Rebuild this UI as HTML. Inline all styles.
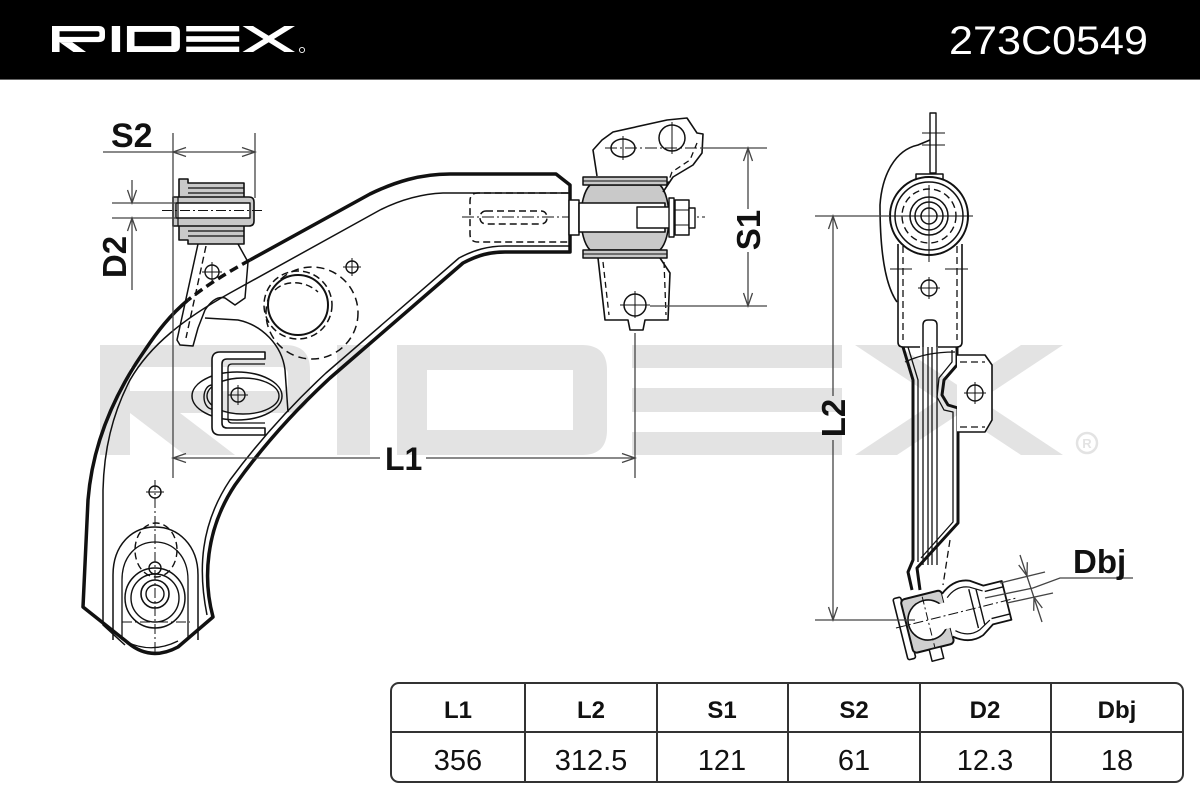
<!DOCTYPE html>
<html>
<head>
<meta charset="utf-8">
<style>
html,body{margin:0;padding:0;background:#fff;}
svg{display:block;}
.lbl{font-family:"Liberation Sans",Arial,sans-serif;font-weight:bold;fill:#111;}
.th{font-family:"Liberation Sans",Arial,sans-serif;font-weight:bold;fill:#111;font-size:24px;}
.td{font-family:"Liberation Sans",Arial,sans-serif;fill:#111;font-size:29px;}
</style>
</head>
<body>
<svg width="1200" height="800" viewBox="0 0 1200 800" xmlns="http://www.w3.org/2000/svg">
<defs>
<g id="logo">
  <path fill-rule="evenodd" d="M0,0 H185 Q210,0 210,25 V45 Q210,68 185,68 H30 V110 H0 Z M30,22 H180 Q188,22 188,30 V38 Q188,46 180,46 H30 Z"/>
  <polygon points="30,68 80,68 135,110 85,110"/>
  <rect x="237" y="0" width="33" height="110"/>
  <path fill-rule="evenodd" d="M297,0 H482 Q507,0 507,25 V85 Q507,110 482,110 H297 Z M327,25 H473 V85 H327 Z"/>
  <rect x="532" y="0" width="210" height="23"/>
  <rect x="532" y="43" width="210" height="24"/>
  <rect x="532" y="87" width="210" height="23"/>
  <polygon points="755,0 797,0 963,110 921,110"/>
  <polygon points="921,0 963,0 797,110 755,110"/>
</g>
</defs>

<rect width="1200" height="800" fill="#fff"/>

<!-- watermark -->
<use href="#logo" transform="translate(100,345)" fill="#e3e3e3"/>
<circle cx="1087" cy="443" r="10" fill="none" stroke="#e3e3e3" stroke-width="2.5"/>
<text x="1087" y="448" text-anchor="middle" font-family="Liberation Sans, sans-serif" font-size="13" font-weight="bold" fill="#e3e3e3">R</text>

<!-- header -->
<rect x="0" y="0" width="1200" height="80" fill="#000"/>
<line x1="0" y1="79.5" x2="1200" y2="79.5" stroke="#666" stroke-width="1"/>
<use href="#logo" transform="translate(52,26) scale(0.2523,0.2364)" fill="#fff"/>
<circle cx="302" cy="50" r="2.6" fill="none" stroke="#fff" stroke-width="0.9"/>
<text x="949" y="54" font-family="Liberation Sans, sans-serif" font-size="40" fill="#fff" textLength="199" lengthAdjust="spacingAndGlyphs">273C0549</text>

<!-- ================= FRONT VIEW ================= -->
<g fill="none" stroke="#111" stroke-linejoin="round">
  <!-- main arm outer thick outline (split: dashed where hidden behind bracket) -->
  <path stroke-width="3.5" d="M188,300 C170,315 157,332 145,350 C110,400 92,450 88,500 L83,607 L127,642 Q150,662 178,647 L213,617 C203,580 205,530 235,485 C260,450 290,415 330,378 L463,263 C478,255 490,252 505,252 L570,252 L570,185 L556,174 L450,174 C420,174 395,182 370,194 L250,260"/>
  <path stroke-width="3.5" stroke-dasharray="9,5" d="M250,260 C228,272 207,285 188,300"/>
  <!-- inner thin top/left -->
  <path stroke-width="1.5" d="M570,193 L443,193 C420,194 400,200 380,210 L230,293 C185,318 150,345 130,380 C112,415 104,450 103,490 L103,625 L125,645"/>
  <!-- inner thin near inner edge -->
  <path stroke-width="1.5" d="M570,246 L505,246 C488,246 474,250 459,258 L326,373 C286,410 256,445 230,480 C200,525 198,570 207,615"/>
  <path stroke-width="1.3" d="M123,640 Q150,655 178,641"/>

  <!-- left bushing -->
  <path stroke-width="1.6" fill="#c9c9c9" d="M179,179 H188 V183 H244 V244 H188 V240 H179 Z"/>
  <line x1="188" y1="188" x2="244" y2="188" stroke-width="1.2"/>
  <line x1="188" y1="193" x2="244" y2="193" stroke-width="1.2"/>
  <line x1="188" y1="231" x2="244" y2="231" stroke-width="1.2"/>
  <line x1="188" y1="236" x2="244" y2="236" stroke-width="1.2"/>
  <path stroke-width="1.6" fill="#c9c9c9" d="M173,197 H249 Q254,197 254,202 V221 Q254,226 249,226 H173 Z"/>
  <rect x="176" y="203" width="74" height="15" fill="#fff" stroke-width="1.4"/>
  <line x1="178" y1="197" x2="178" y2="226" stroke-width="1.2"/>
  <line x1="162" y1="210.5" x2="265" y2="210.5" stroke-width="1" stroke-dasharray="10,3,2,3"/>

  <!-- bracket under bushing -->
  <path stroke-width="1.5" d="M198,244 L177,340 L180,345 L193,346 L198,328 L205,310 Q215,295 225,298 L235,305 L245,298 L248,262 L238,244"/>
  <path stroke-width="1.4" stroke-dasharray="7,4" d="M206,246 L186,338"/>
  <circle cx="212" cy="272" r="7" stroke-width="1.4"/>
  <line x1="202" y1="272" x2="222" y2="272" stroke-width="1"/>
  <line x1="212" y1="262" x2="212" y2="282" stroke-width="1"/>

  <!-- plate arc -->
  <path stroke-width="1.5" d="M205,318 L238,320 C262,325 282,345 285,370 L288,412"/>

  <!-- big circle & dashed -->
  <circle cx="298" cy="305" r="30" stroke-width="2"/>
  <circle cx="298" cy="305" r="34" stroke-width="1.5" stroke-dasharray="7,4"/>
  <circle cx="312" cy="313" r="46" stroke-width="1.5" stroke-dasharray="8,5"/>
  <path stroke-width="1.4" stroke-dasharray="7,4" d="M275,290 C285,280 305,280 318,292"/>
  <circle cx="352" cy="267" r="6" stroke-width="1.4"/>
  <line x1="343" y1="267" x2="361" y2="267" stroke-width="1"/>
  <line x1="352" y1="258" x2="352" y2="276" stroke-width="1"/>

  <!-- ellipse & U bracket -->
  <ellipse cx="237" cy="396" rx="45" ry="24" stroke-width="1.5"/>
  <ellipse cx="243" cy="396" rx="36" ry="18" stroke-width="1.4"/>
  <ellipse cx="212" cy="397" rx="8" ry="12" stroke-width="1.4"/>
  <path stroke-width="1.6" fill="#fff" d="M265,352 H220 Q212,352 212,360 V427 Q212,435 220,435 H265 V428 H227 Q222,428 222,423 V364 Q222,359 227,359 H265 Z"/>
  <path stroke-width="1.3" d="M265,364 H232 Q228,364 228,368 V419 Q228,423 232,423 H265"/>
  <circle cx="238" cy="395" r="7" stroke-width="1.4"/>
  <line x1="228" y1="395" x2="248" y2="395" stroke-width="1"/>
  <line x1="238" y1="385" x2="238" y2="405" stroke-width="1"/>

  <!-- lower ball joint front -->
  <path stroke-width="1.5" d="M113,640 V575 C113,545 132,527 155,527 C178,527 198,545 198,575 V640"/>
  <path stroke-width="1.3" d="M122,640 V580 C122,556 137,542 155,542 C173,542 188,556 188,580 V640"/>
  <circle cx="155" cy="598" r="30" stroke-width="1.5"/>
  <circle cx="155" cy="598" r="24" stroke-width="1.4"/>
  <circle cx="155" cy="594" r="14" stroke-width="1.6"/>
  <circle cx="155" cy="594" r="9" stroke-width="1.4"/>
  <ellipse cx="156" cy="550" rx="21" ry="27" stroke-width="1.4" stroke-dasharray="7,4"/>
  <circle cx="155" cy="568" r="6" stroke-width="1.4"/>
  <circle cx="155" cy="492" r="6" stroke-width="1.4"/>
  <line x1="146" y1="492" x2="164" y2="492" stroke-width="1"/>
  <line x1="155" y1="480" x2="155" y2="652" stroke-width="1" stroke-dasharray="10,3,2,3"/>
  <line x1="122" y1="622" x2="190" y2="622" stroke-width="1" stroke-dasharray="10,3,2,3"/>

  <!-- arm end insert (dashed) -->
  <path stroke-width="1.5" stroke-dasharray="7,4" d="M568,193 H478 Q470,193 470,201 V234 Q470,242 478,242 H568"/>
  <rect x="480" y="211" width="67" height="13" rx="6" stroke-width="1.5" stroke-dasharray="7,4"/>
  <line x1="462" y1="217" x2="705" y2="217" stroke-width="1" stroke-dasharray="12,3,2,3"/>

  <rect x="569" y="200" width="10" height="35" fill="#fff" stroke-width="1.5"/>

  <!-- right bushing -->
  <path stroke-width="1.6" fill="#c9c9c9" d="M590,185 H660 C672,197 672,238 660,250 H590 C578,238 578,197 590,185 Z"/>
  <rect x="583" y="177" width="84" height="8" fill="#c9c9c9" stroke-width="1.5"/>
  <rect x="583" y="250" width="84" height="8" fill="#c9c9c9" stroke-width="1.5"/>
  <line x1="583" y1="181" x2="667" y2="181" stroke-width="1"/>
  <line x1="583" y1="254" x2="667" y2="254" stroke-width="1"/>
  <rect x="579" y="203" width="86" height="29" fill="#fff" stroke-width="1.6"/>
  <rect x="637" y="207" width="35" height="21" fill="#fff" stroke-width="1.4"/>
  <rect x="669" y="198" width="5" height="39" fill="#fff" stroke-width="1.4"/>
  <rect x="675" y="200" width="14" height="35" fill="#fff" stroke-width="1.5"/>
  <line x1="675" y1="210" x2="689" y2="210" stroke-width="1"/>
  <line x1="675" y1="225" x2="689" y2="225" stroke-width="1"/>
  <rect x="689" y="208" width="6" height="20" fill="#fff" stroke-width="1.4"/>

  <!-- top bracket -->
  <path stroke-width="1.6" d="M597,176 L593,150 L602,140 L613,132 L667,120 L687,118 L697,133 L703,134 L702,153 L693,165 L673,177 L663,192"/>
  <path stroke-width="1.3" stroke-dasharray="6,4" d="M697,143 L690,160 L672,172 L666,188"/>
  <ellipse cx="623" cy="148" rx="12" ry="9" stroke-width="1.5"/>
  <circle cx="672" cy="138" r="13" stroke-width="1.5"/>
  <line x1="623" y1="136" x2="623" y2="160" stroke-width="1"/>
  <line x1="672" y1="122" x2="672" y2="154" stroke-width="1"/>
  <line x1="605" y1="148" x2="700" y2="148" stroke-width="1" stroke-dasharray="12,3,2,3"/>

  <!-- bottom bracket -->
  <path stroke-width="1.6" d="M598,258 L605,320 L628,320 L630,330 L643,330 L645,320 L668,320 L670,273 L660,258"/>
  <path stroke-width="1.3" stroke-dasharray="6,4" d="M603,262 L609,315 M664,262 L666,315"/>
  <circle cx="635" cy="305" r="11" stroke-width="1.5"/>
  <line x1="620" y1="305" x2="650" y2="305" stroke-width="1"/>
  <line x1="635" y1="291" x2="635" y2="318" stroke-width="1"/>
</g>

<!-- ================= SIDE VIEW ================= -->
<g fill="none" stroke="#111" stroke-linejoin="round">
  <rect x="930" y="113" width="6" height="60" stroke-width="1.4"/>
  <line x1="922" y1="133" x2="945" y2="133" stroke-width="1"/>
  <line x1="922" y1="145" x2="945" y2="145" stroke-width="1"/>
  <path stroke-width="1.6" d="M930,140 L918,145 C895,150 882,175 880,205 C880,250 885,285 897,302"/>
  <rect x="916" y="174" width="27" height="9" stroke-width="1.5" fill="#fff"/>
  <circle cx="929" cy="216" r="39" stroke-width="2" fill="#fff"/>
  <circle cx="929" cy="216" r="34" stroke-width="1.5"/>
  <circle cx="929" cy="216" r="27" stroke-width="1.4" stroke-dasharray="7,4"/>
  <circle cx="929" cy="216" r="19" stroke-width="1.5"/>
  <circle cx="929" cy="216" r="14" stroke-width="1.5"/>
  <circle cx="929" cy="216" r="8" stroke-width="1.5"/>
  <line x1="885" y1="216" x2="973" y2="216" stroke-width="1"/>
  <line x1="929" y1="185" x2="929" y2="262" stroke-width="1"/>
  <path stroke-width="1.6" d="M898,244 V342 Q898,347 903,347 H920 M938,347 H957 Q962,347 962,342 V244"/>
  <path stroke-width="1.3" stroke-dasharray="7,4" d="M903,246 V340 M957,246 V340"/>
  <path stroke-width="1.5" d="M923,347 V325 Q923,320 928,320 H932 Q937,320 937,325 V347"/>
  <circle cx="929" cy="288" r="8" stroke-width="1.4"/>
  <line x1="918" y1="288" x2="940" y2="288" stroke-width="1"/>
  <line x1="929" y1="277" x2="929" y2="299" stroke-width="1"/>
  <line x1="890" y1="269" x2="912" y2="269" stroke-width="1"/>
  <line x1="945" y1="269" x2="968" y2="269" stroke-width="1"/>
  <path stroke-width="3" d="M903,347 L913,380 L913,560 L908,572 L912,590"/>
  <path stroke-width="1.3" d="M908,347 L918,380 L918,562"/>
  <path stroke-width="1.3" d="M923,347 V565 M928,347 V565 M932,347 V565 M937,347 V565"/>
  <path stroke-width="3" d="M957,347 L957,365 L944,380 L942,395 L948,405 L958,408 L958,523 L917,568 L920,590"/>
  <path stroke-width="1.3" d="M952,350 L952,362 L939,378 L937,397 L944,410 L953,412 L953,522 L921,558"/>
  <path stroke-width="1.2" d="M905,362 C920,355 935,352 955,352"/>
  <path stroke-width="1.3" stroke-dasharray="7,4" d="M950,540 L943,585"/>
  <path stroke-width="1.6" fill="#fff" d="M957,355 H985 L992,365 V420 L985,432 H957"/>
  <path stroke-width="1.2" stroke-dasharray="7,4" d="M960,362 H985 M960,427 H985"/>
  <circle cx="975" cy="393" r="8" stroke-width="1.4"/>
  <line x1="964" y1="393" x2="986" y2="393" stroke-width="1"/>
  <line x1="975" y1="382" x2="975" y2="404" stroke-width="1"/>
  <!-- ball joint -->
  <g transform="rotate(-14 928 620)">
    <rect x="899" y="591" width="8" height="63" rx="2" stroke-width="1.6" fill="#fff"/>
    <rect x="906" y="594" width="42" height="55" rx="4" stroke-width="2" fill="#cfcfcf"/>
    <circle cx="928" cy="620" r="20" stroke-width="1.6" fill="#fff"/>
    <rect x="940" y="607" width="12" height="26" fill="#fff" stroke="none"/>
    <path stroke-width="1.8" fill="#fff" d="M948,598 C958,590 968,588 978,592 L990,600 L1009,600 V640 L990,640 L978,648 C968,652 958,650 948,642"/>
    <path stroke-width="1.2" d="M952,603 C960,596 968,595 976,598 L988,605 M952,637 C960,644 968,645 976,642 L988,635"/>
    <path stroke-width="1.4" d="M990,606 H1009 M990,634 H1009 M975,600 V640 M982,602 V638"/>
    <rect x="922" y="649" width="12" height="12" stroke-width="1.5" fill="#fff"/>
    <line x1="895" y1="620" x2="1020" y2="620" stroke-width="1" stroke-dasharray="10,3,2,3"/>
    <line x1="928" y1="596" x2="928" y2="648" stroke-width="1" stroke-dasharray="8,3,2,3"/>
  </g>
</g>

<!-- ================= DIMENSIONS ================= -->
<g fill="none" stroke="#444" stroke-width="1.3">
  <line x1="103" y1="152" x2="255" y2="152"/>
  <line x1="173" y1="133" x2="173" y2="478"/>
  <line x1="255" y1="133" x2="255" y2="198"/>
  <path d="M186,147.5 L173,152 L186,156.5"/>
  <path d="M242,147.5 L255,152 L242,156.5"/>
  <line x1="132" y1="180" x2="132" y2="203"/>
  <line x1="132" y1="218" x2="132" y2="290"/>
  <line x1="112" y1="203" x2="176" y2="203"/>
  <line x1="112" y1="218" x2="176" y2="218"/>
  <path d="M127.5,190 L132,203 L136.5,190"/>
  <path d="M127.5,231 L132,218 L136.5,231"/>
  <line x1="173" y1="458" x2="380" y2="458"/>
  <line x1="426" y1="458" x2="635" y2="458"/>
  <line x1="635" y1="333" x2="635" y2="478"/>
  <path d="M186,453.5 L173,458 L186,462.5"/>
  <path d="M622,453.5 L635,458 L622,462.5"/>
  <line x1="700" y1="148" x2="767" y2="148"/>
  <line x1="650" y1="306" x2="767" y2="306"/>
  <line x1="748" y1="148" x2="748" y2="209"/>
  <line x1="748" y1="252" x2="748" y2="306"/>
  <path d="M743.5,161 L748,148 L752.5,161"/>
  <path d="M743.5,293 L748,306 L752.5,293"/>
  <line x1="815" y1="216" x2="890" y2="216"/>
  <line x1="815" y1="620" x2="915" y2="620"/>
  <line x1="833" y1="216" x2="833" y2="396"/>
  <line x1="833" y1="440" x2="833" y2="620"/>
  <path d="M828.5,229 L833,216 L837.5,229"/>
  <path d="M828.5,607 L833,620 L837.5,607"/>
  <line x1="1000" y1="583" x2="1045" y2="572"/>
  <line x1="1007" y1="603" x2="1053" y2="593"/>
  <path d="M985,598 L1033,588 L1060,578 H1133"/>
  <line x1="1020" y1="555" x2="1042" y2="622"/>
  <path d="M1027.3,562.2 L1027,576 L1018.7,565"/>
  <path d="M1042.3,608 L1034,597 L1033.7,610.8"/>
</g>

<!-- labels -->
<text class="lbl" x="111" y="147" font-size="34">S2</text>
<text class="lbl" font-size="33" transform="translate(126,257) rotate(-90)" text-anchor="middle">D2</text>
<text class="lbl" x="385" y="470" font-size="32">L1</text>
<text class="lbl" font-size="33" transform="translate(760,230) rotate(-90)" text-anchor="middle">S1</text>
<text class="lbl" font-size="33" transform="translate(845,418) rotate(-90)" text-anchor="middle">L2</text>
<text class="lbl" x="1073" y="573" font-size="33">Dbj</text>

<!-- ================= TABLE ================= -->
<g fill="none" stroke="#333" stroke-width="2">
  <rect x="391" y="683" width="792" height="99" rx="8"/>
  <line x1="391" y1="732" x2="1183" y2="732"/>
  <line x1="525" y1="683" x2="525" y2="782"/>
  <line x1="657" y1="683" x2="657" y2="782"/>
  <line x1="788" y1="683" x2="788" y2="782"/>
  <line x1="920" y1="683" x2="920" y2="782"/>
  <line x1="1051" y1="683" x2="1051" y2="782"/>
</g>
<g text-anchor="middle">
  <text class="th" x="458" y="718">L1</text>
  <text class="th" x="591" y="718">L2</text>
  <text class="th" x="722" y="718">S1</text>
  <text class="th" x="854" y="718">S2</text>
  <text class="th" x="985" y="718">D2</text>
  <text class="th" x="1117" y="718">Dbj</text>
  <text class="td" x="458" y="770">356</text>
  <text class="td" x="591" y="770">312.5</text>
  <text class="td" x="722" y="770">121</text>
  <text class="td" x="854" y="770">61</text>
  <text class="td" x="985" y="770">12.3</text>
  <text class="td" x="1117" y="770">18</text>
</g>
</svg>
</body>
</html>
